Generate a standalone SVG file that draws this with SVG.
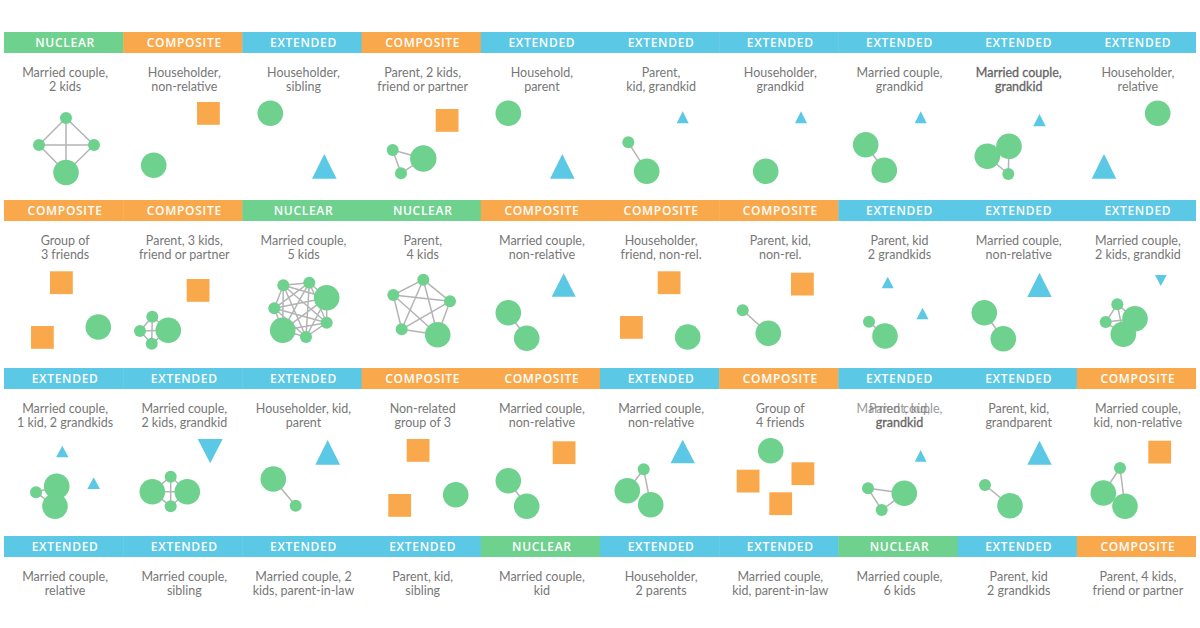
<svg xmlns="http://www.w3.org/2000/svg" width="1200" height="628" viewBox="0 0 1200 628">
<style>
.bg{fill:#ffffff}
.hN{fill:#6fd18e}.hC{fill:#f9a84b}.hE{fill:#5bc8e5}
.ht{font-family:"Open Sans",Lato,"Liberation Sans",sans-serif;font-size:12px;font-weight:600;fill:#ffffff;text-anchor:middle;letter-spacing:0.7px}
.lb{font-family:Lato,"Open Sans","Liberation Sans",sans-serif;font-size:12.5px;fill:#777777;text-anchor:middle}
.g{fill:#6fd18e}.o{fill:#f9a84b}.b{fill:#5bc8e5}
.e{fill:none;stroke:#b4b4b4;stroke-width:1.5}
</style>
<rect class="bg" x="0" y="0" width="1200" height="628"/>

<g id="connectors">
<path class="e" d="M66 118L39 145M66 118L94 145M39 145L94 145M66 118L66 172.5M39 145L66 172.5M94 145L66 172.5"/>
<path class="e" d="M392.7 150L423.3 158.5M401 173.3L423.3 158.5M392.7 150L401 173.3"/>
<path class="e" d="M628.3 142.3L646.7 171.3"/>
<path class="e" d="M865.7 144.7L884.3 170.3"/>
<path class="e" d="M1008.3 174L987.3 156.3M1008.3 174L1009 146.3"/>
<path class="e" d="M152.3 316.7L140 331M140 331L151.7 343.7M152.3 316.7L151.7 343.7M152.3 316.7L168.3 330.3M140 331L168.3 330.3M151.7 343.7L168.3 330.3"/>
<path class="e" d="M283.3 285.3L309.3 282.7M283.3 285.3L326.7 297.7M283.3 285.3L274.3 308.3M283.3 285.3L326.7 322.7M283.3 285.3L282.7 330.3M283.3 285.3L306 337M309.3 282.7L326.7 297.7M309.3 282.7L274.3 308.3M309.3 282.7L326.7 322.7M309.3 282.7L282.7 330.3M309.3 282.7L306 337M326.7 297.7L274.3 308.3M326.7 297.7L326.7 322.7M326.7 297.7L282.7 330.3M326.7 297.7L306 337M274.3 308.3L326.7 322.7M274.3 308.3L282.7 330.3M274.3 308.3L306 337M326.7 322.7L282.7 330.3M326.7 322.7L306 337M282.7 330.3L306 337"/>
<path class="e" d="M423.3 279.7L450 301.3M423.3 279.7L393.3 295M423.3 279.7L401.7 329.3M423.3 279.7L437.7 334.7M450 301.3L393.3 295M450 301.3L401.7 329.3M450 301.3L437.7 334.7M393.3 295L401.7 329.3M393.3 295L437.7 334.7M401.7 329.3L437.7 334.7"/>
<path class="e" d="M508.3 312.7L526.7 338.3"/>
<path class="e" d="M742.7 310.3L768.3 333.3"/>
<path class="e" d="M869 321.7L885 336"/>
<path class="e" d="M984.3 312.7L1003.3 338.7"/>
<path class="e" d="M1117.3 304.3L1105.7 322M1117.3 304.3L1135 318.7M1117.3 304.3L1123.3 334.3M1105.7 322L1135 318.7M1105.7 322L1123.3 334.3M1135 318.7L1123.3 334.3"/>
<path class="e" d="M36 492.3L56.7 486.3M36 492.3L55 506.3M56.7 486.3L55 506.3"/>
<path class="e" d="M152.3 491.7L187.3 491.7M170.7 476.7L170.7 506.3M170.7 476.7L152.3 491.7M170.7 476.7L187.3 491.7M170.7 506.3L152.3 491.7M170.7 506.3L187.3 491.7"/>
<path class="e" d="M273.3 479L295.7 505.7"/>
<path class="e" d="M508.3 480.7L526.7 506.3"/>
<path class="e" d="M643.7 469.3L627.3 490.7M643.7 469.3L650.7 504.7"/>
<path class="e" d="M868 488.3L881.7 510M868 488.3L904.3 493.3M881.7 510L904.3 493.3"/>
<path class="e" d="M985 485L1010 505.7"/>
<path class="e" d="M1120 468L1103.3 493M1120 468L1125 506.3"/>
</g>

<!-- Row 1 -->
<g id="r1c1">
<rect class="hN" x="4" y="32" width="119.6" height="21"/>
<text class="ht" x="65.1" y="47.3">NUCLEAR</text>
<text class="lb" x="65.1" y="77">Married couple,</text><text class="lb" x="65.1" y="91">2 kids</text>
<circle class="g" cx="66" cy="118" r="6"/><circle class="g" cx="39" cy="145" r="6"/><circle class="g" cx="94" cy="145" r="6"/><circle class="g" cx="66" cy="172.5" r="12.8"/>
</g>
<g id="r1c2">
<rect class="hC" x="123.2" y="32" width="119.6" height="21"/>
<text class="ht" x="184.3" y="47.3">COMPOSITE</text>
<text class="lb" x="184.3" y="77">Householder,</text><text class="lb" x="184.3" y="91">non-relative</text>
<rect class="o" x="197" y="102" width="22.8" height="22.8"/>
<circle class="g" cx="153.7" cy="165.3" r="12.8"/>
</g>
<g id="r1c3">
<rect class="hE" x="242.4" y="32" width="119.6" height="21"/>
<text class="ht" x="303.5" y="47.3">EXTENDED</text>
<text class="lb" x="303.5" y="77">Householder,</text><text class="lb" x="303.5" y="91">sibling</text>
<circle class="g" cx="270.3" cy="113.3" r="12.8"/>
<polygon class="b" points="324.3,154 312,178.7 336.6,178.7"/>
</g>
<g id="r1c4">
<rect class="hC" x="361.6" y="32" width="119.6" height="21"/>
<text class="ht" x="422.7" y="47.3">COMPOSITE</text>
<text class="lb" x="422.7" y="77">Parent, 2 kids,</text><text class="lb" x="422.7" y="91">friend or partner</text>
<rect class="o" x="435.7" y="109" width="22.8" height="22.8"/>
<circle class="g" cx="392.7" cy="150" r="6"/><circle class="g" cx="401" cy="173.3" r="6"/><circle class="g" cx="423.3" cy="158.5" r="13.2"/>
</g>
<g id="r1c5">
<rect class="hE" x="480.8" y="32" width="119.6" height="21"/>
<text class="ht" x="541.9" y="47.3">EXTENDED</text>
<text class="lb" x="541.9" y="77">Household,</text><text class="lb" x="541.9" y="91">parent</text>
<circle class="g" cx="508.3" cy="113.3" r="12.8"/>
<polygon class="b" points="562.3,154 550,178.7 574.6,178.7"/>
</g>
<g id="r1c6">
<rect class="hE" x="600" y="32" width="119.6" height="21"/>
<text class="ht" x="661.1" y="47.3">EXTENDED</text>
<text class="lb" x="661.1" y="77">Parent,</text><text class="lb" x="661.1" y="91">kid, grandkid</text>
<polygon class="b" points="682.7,111.3 676.7,123.3 688.7,123.3"/>
<circle class="g" cx="628.3" cy="142.3" r="6"/><circle class="g" cx="646.7" cy="171.3" r="12.8"/>
</g>
<g id="r1c7">
<rect class="hE" x="719.2" y="32" width="119.6" height="21"/>
<text class="ht" x="780.3" y="47.3">EXTENDED</text>
<text class="lb" x="780.3" y="77">Householder,</text><text class="lb" x="780.3" y="91">grandkid</text>
<polygon class="b" points="801,111.3 795,123.3 807,123.3"/>
<circle class="g" cx="765.7" cy="171.3" r="12.8"/>
</g>
<g id="r1c8">
<rect class="hE" x="838.4" y="32" width="119.6" height="21"/>
<text class="ht" x="899.5" y="47.3">EXTENDED</text>
<text class="lb" x="899.5" y="77">Married couple,</text><text class="lb" x="899.5" y="91">grandkid</text>
<polygon class="b" points="920.7,111.3 914.7,123.3 926.7,123.3"/>
<circle class="g" cx="865.7" cy="144.7" r="12.8"/><circle class="g" cx="884.3" cy="170.3" r="12.8"/>
</g>
<g id="r1c9">
<rect class="hE" x="957.6" y="32" width="119.6" height="21"/>
<text class="ht" x="1018.7" y="47.3">EXTENDED</text>
<text class="lb" x="1018.7" y="77" style="fill:#666;stroke:#666;stroke-width:0.3">Married couple,</text><text class="lb" x="1018.7" y="91" style="fill:#666;stroke:#666;stroke-width:0.3">grandkid</text>
<polygon class="b" points="1039.5,114 1033.2,126.3 1045.8,126.3"/>
<circle class="g" cx="987.3" cy="156.3" r="12.8"/><circle class="g" cx="1009" cy="146.3" r="12.8"/><circle class="g" cx="1008.3" cy="174" r="6"/>
</g>
<g id="r1c10">
<rect class="hE" x="1076.8" y="32" width="119.2" height="21"/>
<text class="ht" x="1137.9" y="47.3">EXTENDED</text>
<text class="lb" x="1137.9" y="77">Householder,</text><text class="lb" x="1137.9" y="91">relative</text>
<circle class="g" cx="1157.7" cy="113.3" r="12.8"/>
<polygon class="b" points="1104,154 1091.7,178.7 1116.3,178.7"/>
</g>

<!-- Row 2 -->
<g id="r2c1">
<rect class="hC" x="4" y="200" width="119.6" height="21"/>
<text class="ht" x="65.1" y="215.3">COMPOSITE</text>
<text class="lb" x="65.1" y="245">Group of</text><text class="lb" x="65.1" y="259">3 friends</text>
<rect class="o" x="50" y="271.3" width="22.8" height="22.8"/>
<rect class="o" x="31" y="326" width="22.8" height="22.8"/>
<circle class="g" cx="98.3" cy="327" r="12.8"/>
</g>
<g id="r2c2">
<rect class="hC" x="123.2" y="200" width="119.6" height="21"/>
<text class="ht" x="184.3" y="215.3">COMPOSITE</text>
<text class="lb" x="184.3" y="245">Parent, 3 kids,</text><text class="lb" x="184.3" y="259">friend or partner</text>
<rect class="o" x="186.7" y="279" width="22.8" height="22.8"/>
<circle class="g" cx="152.3" cy="316.7" r="6"/><circle class="g" cx="140" cy="331" r="6"/><circle class="g" cx="151.7" cy="343.7" r="6"/><circle class="g" cx="168.3" cy="330.3" r="12.8"/>
</g>
<g id="r2c3">
<rect class="hN" x="242.4" y="200" width="119.6" height="21"/>
<text class="ht" x="303.5" y="215.3">NUCLEAR</text>
<text class="lb" x="303.5" y="245">Married couple,</text><text class="lb" x="303.5" y="259">5 kids</text>
<circle class="g" cx="283.3" cy="285.3" r="6"/><circle class="g" cx="309.3" cy="282.7" r="6"/><circle class="g" cx="326.7" cy="297.7" r="12.8"/><circle class="g" cx="274.3" cy="308.3" r="6"/><circle class="g" cx="326.7" cy="322.7" r="6"/><circle class="g" cx="282.7" cy="330.3" r="12.8"/><circle class="g" cx="306" cy="337" r="6"/>
</g>
<g id="r2c4">
<rect class="hN" x="361.6" y="200" width="119.6" height="21"/>
<text class="ht" x="422.7" y="215.3">NUCLEAR</text>
<text class="lb" x="422.7" y="245">Parent,</text><text class="lb" x="422.7" y="259">4 kids</text>
<circle class="g" cx="423.3" cy="279.7" r="6"/><circle class="g" cx="450" cy="301.3" r="6"/><circle class="g" cx="393.3" cy="295" r="6"/><circle class="g" cx="401.7" cy="329.3" r="6"/><circle class="g" cx="437.7" cy="334.7" r="12.8"/>
</g>
<g id="r2c5">
<rect class="hC" x="480.8" y="200" width="119.6" height="21"/>
<text class="ht" x="541.9" y="215.3">COMPOSITE</text>
<text class="lb" x="541.9" y="245">Married couple,</text><text class="lb" x="541.9" y="259">non-relative</text>
<polygon class="b" points="563.7,273.3 551.7,296.7 575.7,296.7"/>
<circle class="g" cx="508.3" cy="312.7" r="12.8"/><circle class="g" cx="526.7" cy="338.3" r="12.8"/>
</g>
<g id="r2c6">
<rect class="hC" x="600" y="200" width="119.6" height="21"/>
<text class="ht" x="661.1" y="215.3">COMPOSITE</text>
<text class="lb" x="661.1" y="245">Householder,</text><text class="lb" x="661.1" y="259">friend, non-rel.</text>
<rect class="o" x="657.7" y="271.3" width="22.8" height="22.8"/>
<rect class="o" x="620" y="316" width="22.8" height="22.8"/>
<circle class="g" cx="687.7" cy="337" r="12.8"/>
</g>
<g id="r2c7">
<rect class="hC" x="719.2" y="200" width="119.6" height="21"/>
<text class="ht" x="780.3" y="215.3">COMPOSITE</text>
<text class="lb" x="780.3" y="245">Parent, kid,</text><text class="lb" x="780.3" y="259">non-rel.</text>
<rect class="o" x="791" y="272.7" width="22.8" height="22.8"/>
<circle class="g" cx="742.7" cy="310.3" r="6"/><circle class="g" cx="768.3" cy="333.3" r="12.8"/>
</g>
<g id="r2c8">
<rect class="hE" x="838.4" y="200" width="119.6" height="21"/>
<text class="ht" x="899.5" y="215.3">EXTENDED</text>
<text class="lb" x="899.5" y="245">Parent, kid</text><text class="lb" x="899.5" y="259">2 grandkids</text>
<polygon class="b" points="887.7,276.7 881.7,288.3 893.7,288.3"/>
<polygon class="b" points="922.5,307.7 916.5,319.3 928.5,319.3"/>
<circle class="g" cx="869" cy="321.7" r="6"/><circle class="g" cx="885" cy="336" r="12.8"/>
</g>
<g id="r2c9">
<rect class="hE" x="957.6" y="200" width="119.6" height="21"/>
<text class="ht" x="1018.7" y="215.3">EXTENDED</text>
<text class="lb" x="1018.7" y="245">Married couple,</text><text class="lb" x="1018.7" y="259">non-relative</text>
<polygon class="b" points="1039.5,272.7 1027.3,297 1051.7,297"/>
<circle class="g" cx="984.3" cy="312.7" r="12.8"/><circle class="g" cx="1003.3" cy="338.7" r="12.8"/>
</g>
<g id="r2c10">
<rect class="hE" x="1076.8" y="200" width="119.2" height="21"/>
<text class="ht" x="1137.9" y="215.3">EXTENDED</text>
<text class="lb" x="1137.9" y="245">Married couple,</text><text class="lb" x="1137.9" y="259">2 kids, grandkid</text>
<polygon class="b" points="1155,275 1166.7,275 1160.8,286"/>
<circle class="g" cx="1117.3" cy="304.3" r="6"/><circle class="g" cx="1105.7" cy="322" r="6"/><circle class="g" cx="1135" cy="318.7" r="12.8"/><circle class="g" cx="1123.3" cy="334.3" r="12.8"/>
</g>

<!-- Row 3 -->
<g id="r3c1">
<rect class="hE" x="4" y="368" width="119.6" height="21"/>
<text class="ht" x="65.1" y="383.3">EXTENDED</text>
<text class="lb" x="65.1" y="413">Married couple,</text><text class="lb" x="65.1" y="427">1 kid, 2 grandkids</text>
<polygon class="b" points="62.3,445.7 56.1,457.3 68.5,457.3"/>
<polygon class="b" points="93.7,477.3 87.4,489 100,489"/>
<circle class="g" cx="36" cy="492.3" r="6"/><circle class="g" cx="56.7" cy="486.3" r="12.8"/><circle class="g" cx="55" cy="506.3" r="12.8"/>
</g>
<g id="r3c2">
<rect class="hE" x="123.2" y="368" width="119.6" height="21"/>
<text class="ht" x="184.3" y="383.3">EXTENDED</text>
<text class="lb" x="184.3" y="413">Married couple,</text><text class="lb" x="184.3" y="427">2 kids, grandkid</text>
<polygon class="b" points="197.7,439 222.7,439 210.2,463.3"/>
<circle class="g" cx="152.3" cy="491.7" r="12.8"/><circle class="g" cx="187.3" cy="491.7" r="12.8"/><circle class="g" cx="170.7" cy="476.7" r="6"/><circle class="g" cx="170.7" cy="506.3" r="6"/>
</g>
<g id="r3c3">
<rect class="hE" x="242.4" y="368" width="119.6" height="21"/>
<text class="ht" x="303.5" y="383.3">EXTENDED</text>
<text class="lb" x="303.5" y="413">Householder, kid,</text><text class="lb" x="303.5" y="427">parent</text>
<polygon class="b" points="327.7,440 315.3,464.7 340.1,464.7"/>
<circle class="g" cx="273.3" cy="479" r="12.8"/><circle class="g" cx="295.7" cy="505.7" r="6"/>
</g>
<g id="r3c4">
<rect class="hC" x="361.6" y="368" width="119.6" height="21"/>
<text class="ht" x="422.7" y="383.3">COMPOSITE</text>
<text class="lb" x="422.7" y="413">Non-related</text><text class="lb" x="422.7" y="427">group of 3</text>
<rect class="o" x="406.7" y="439" width="22.8" height="22.8"/>
<rect class="o" x="388.3" y="494" width="22.8" height="22.8"/>
<circle class="g" cx="455.7" cy="494.7" r="12.8"/>
</g>
<g id="r3c5">
<rect class="hC" x="480.8" y="368" width="119.6" height="21"/>
<text class="ht" x="541.9" y="383.3">COMPOSITE</text>
<text class="lb" x="541.9" y="413">Married couple,</text><text class="lb" x="541.9" y="427">non-relative</text>
<rect class="o" x="552.7" y="441.3" width="22.8" height="22.8"/>
<circle class="g" cx="508.3" cy="480.7" r="12.8"/><circle class="g" cx="526.7" cy="506.3" r="12.8"/>
</g>
<g id="r3c6">
<rect class="hE" x="600" y="368" width="119.6" height="21"/>
<text class="ht" x="661.1" y="383.3">EXTENDED</text>
<text class="lb" x="661.1" y="413">Married couple,</text><text class="lb" x="661.1" y="427">non-relative</text>
<polygon class="b" points="682.7,439.7 670.5,463.3 694.9,463.3"/>
<circle class="g" cx="643.7" cy="469.3" r="6"/><circle class="g" cx="627.3" cy="490.7" r="12.8"/><circle class="g" cx="650.7" cy="504.7" r="12.8"/>
</g>
<g id="r3c7">
<rect class="hC" x="719.2" y="368" width="119.6" height="21"/>
<text class="ht" x="780.3" y="383.3">COMPOSITE</text>
<text class="lb" x="780.3" y="413">Group of</text><text class="lb" x="780.3" y="427">4 friends</text>
<circle class="g" cx="770.7" cy="450.7" r="12.8"/>
<rect class="o" x="736.7" y="469.7" width="22.8" height="22.8"/>
<rect class="o" x="769.3" y="492.3" width="22.8" height="22.8"/>
<rect class="o" x="791.5" y="462.3" width="22.8" height="22.8"/>
</g>
<g id="r3c8">
<rect class="hE" x="838.4" y="368" width="119.6" height="21"/>
<text class="ht" x="899.5" y="383.3">EXTENDED</text>
<text class="lb" x="899.5" y="413" opacity="0.75">Married couple,</text>
<text class="lb" x="899.5" y="413" opacity="0.75">Parent, kid,</text>
<text class="lb" x="899.5" y="427" style="fill:#666;stroke:#666;stroke-width:0.3">grandkid</text>
<polygon class="b" points="920.7,450 914.8,461.7 926.6,461.7"/>
<circle class="g" cx="868" cy="488.3" r="6"/><circle class="g" cx="881.7" cy="510" r="6"/><circle class="g" cx="904.3" cy="493.3" r="12.8"/>
</g>
<g id="r3c9">
<rect class="hE" x="957.6" y="368" width="119.6" height="21"/>
<text class="ht" x="1018.7" y="383.3">EXTENDED</text>
<text class="lb" x="1018.7" y="413">Parent, kid,</text><text class="lb" x="1018.7" y="427">grandparent</text>
<polygon class="b" points="1039.5,440.7 1027.3,464.7 1051.7,464.7"/>
<circle class="g" cx="985" cy="485" r="6"/><circle class="g" cx="1010" cy="505.7" r="12.8"/>
</g>
<g id="r3c10">
<rect class="hC" x="1076.8" y="368" width="119.2" height="21"/>
<text class="ht" x="1137.9" y="383.3">COMPOSITE</text>
<text class="lb" x="1137.9" y="413">Married couple,</text><text class="lb" x="1137.9" y="427">kid, non-relative</text>
<rect class="o" x="1148.3" y="440.7" width="22.8" height="22.8"/>
<circle class="g" cx="1120" cy="468" r="6"/><circle class="g" cx="1103.3" cy="493" r="12.8"/><circle class="g" cx="1125" cy="506.3" r="12.8"/>
</g>

<!-- Row 4 -->
<g id="r4c1">
<rect class="hE" x="4" y="536" width="119.6" height="21"/>
<text class="ht" x="65.1" y="551.3">EXTENDED</text>
<text class="lb" x="65.1" y="581">Married couple,</text><text class="lb" x="65.1" y="595">relative</text>
</g>
<g id="r4c2">
<rect class="hE" x="123.2" y="536" width="119.6" height="21"/>
<text class="ht" x="184.3" y="551.3">EXTENDED</text>
<text class="lb" x="184.3" y="581">Married couple,</text><text class="lb" x="184.3" y="595">sibling</text>
</g>
<g id="r4c3">
<rect class="hE" x="242.4" y="536" width="119.6" height="21"/>
<text class="ht" x="303.5" y="551.3">EXTENDED</text>
<text class="lb" x="303.5" y="581">Married couple, 2</text><text class="lb" x="303.5" y="595">kids, parent-in-law</text>
</g>
<g id="r4c4">
<rect class="hE" x="361.6" y="536" width="119.6" height="21"/>
<text class="ht" x="422.7" y="551.3">EXTENDED</text>
<text class="lb" x="422.7" y="581">Parent, kid,</text><text class="lb" x="422.7" y="595">sibling</text>
</g>
<g id="r4c5">
<rect class="hN" x="480.8" y="536" width="119.6" height="21"/>
<text class="ht" x="541.9" y="551.3">NUCLEAR</text>
<text class="lb" x="541.9" y="581">Married couple,</text><text class="lb" x="541.9" y="595">kid</text>
</g>
<g id="r4c6">
<rect class="hE" x="600" y="536" width="119.6" height="21"/>
<text class="ht" x="661.1" y="551.3">EXTENDED</text>
<text class="lb" x="661.1" y="581">Householder,</text><text class="lb" x="661.1" y="595">2 parents</text>
</g>
<g id="r4c7">
<rect class="hE" x="719.2" y="536" width="119.6" height="21"/>
<text class="ht" x="780.3" y="551.3">EXTENDED</text>
<text class="lb" x="780.3" y="581">Married couple,</text><text class="lb" x="780.3" y="595">kid, parent-in-law</text>
</g>
<g id="r4c8">
<rect class="hN" x="838.4" y="536" width="119.6" height="21"/>
<text class="ht" x="899.5" y="551.3">NUCLEAR</text>
<text class="lb" x="899.5" y="581">Married couple,</text><text class="lb" x="899.5" y="595">6 kids</text>
</g>
<g id="r4c9">
<rect class="hE" x="957.6" y="536" width="119.6" height="21"/>
<text class="ht" x="1018.7" y="551.3">EXTENDED</text>
<text class="lb" x="1018.7" y="581">Parent, kid</text><text class="lb" x="1018.7" y="595">2 grandkids</text>
</g>
<g id="r4c10">
<rect class="hC" x="1076.8" y="536" width="119.2" height="21"/>
<text class="ht" x="1137.9" y="551.3">COMPOSITE</text>
<text class="lb" x="1137.9" y="581">Parent, 4 kids,</text><text class="lb" x="1137.9" y="595">friend or partner</text>
</g>
</svg>
